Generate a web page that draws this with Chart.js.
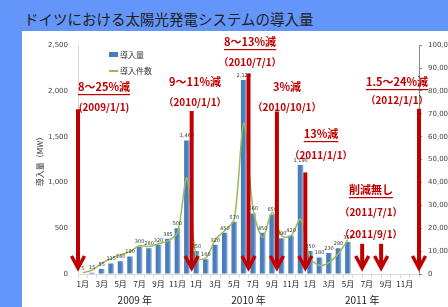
<!DOCTYPE html>
<html>
<head>
<meta charset="utf-8">
<script src="https://cdn.jsdelivr.net/npm/chart.js@4"></script>
<style>
html, body { margin: 0; padding: 0; width: 448px; height: 307px; overflow: hidden; background: #6495f8; }
#title { position: absolute; left: 24px; top: 12px; margin: 0; font: normal 14.5px/1 "Noto Sans CJK JP", sans-serif; color: #1e1e1e; white-space: nowrap; }
#panel { position: absolute; left: 22px; top: 31px; width: 426px; height: 276px; background: #fff; }
canvas { display: block; }
</style>
</head>
<body>
<h1 id="title">ドイツにおける太陽光発電システムの導入量</h1>
<div id="panel"><canvas id="pvChart" width="426" height="276"></canvas></div>
<script>
// data
const years = ['2009', '2010', '2011'];
const months = ['1月', '2月', '3月', '4月', '5月', '6月', '7月', '8月', '9月', '10月', '11月', '12月'];
const categories = years.flatMap(yr => months.map((m, i) => yr + '/' + (i + 1)));

// 導入量 (MW), left axis
const capacityMW = [
    5, 15, 55, 115, 140, 190, 300, 280, 320, 385, 500, 1460,
    250, 160, 320, 450, 570, 2120, 660, 450, 650, 390, 420, 1190,
    250, 180, 230, 280, 350, null, null, null, null, null, null, null
];
// 導入件数, right axis
const installCount = [
    600, 1700, 4700, 6800, 8500, 9800, 12400, 12000, 13200, 14500, 18000, 42000,
    7000, 7000, 15000, 19000, 24000, 66000, 28000, 16000, 27000, 16700, 16700, 24000,
    7000, 3800, 5000, 9000, 15000, null, null, null, null, null, null, null
];

const yTicksLeft = [0, 500, 1000, 1500, 2000, 2500];
const yTicksRight = [0, 10000, 20000, 30000, 40000, 50000, 60000, 70000, 80000, 90000, 100000];

// feed-in tariff cuts
const cutRates = ['8～25%減', '9～11%減', '8～13%減', '3%減', '13%減', '削減無し', '1.5～24%減'];
const cutDates = [['(2009/1/1)'], ['（2010/1/1）'], ['（2010/7/1）'], ['（2010/10/1）'], ['（2011/1/1）'], ['（2011/7/1）', '（2011/9/1）'], ['（2012/1/1）']];

const RED = '#c00000';
const BLUE = '#4a7ebb';
const BLUE_LIGHT = '#a9c4e8';
const GREEN = '#9bbb59';

// arrows: month index where the cut starts, top (MW)
const arrows = [
    { idx: 0, top: 1800 }, { idx: 12, top: 1780 }, { idx: 18, top: 2190 }, { idx: 21, top: 1775 },
    { idx: 24, top: 1110 }, { idx: 30, top: 330 }, { idx: 32, top: 330 }, { idx: 36, top: 1805 }
];
const arrowTip = 55;
// text blocks (canvas px)
const notes = [
    { cx: 82, y: 56, ul: true }, { cx: 173, y: 51, ul: false }, { cx: 228, y: 11, ul: true },
    { cx: 265, y: 56, ul: false }, { cx: 299, y: 103, ul: true }, { cx: 349, y: 159, ul: true },
    { cx: 375, y: 51, ul: true }
];
const dateGaps = [20, 20, 20, 20, 21, 22, 18];

const fmt = v => v.toLocaleString('en-US');

// excel-like shading on each bar
const barShade = {
    id: 'barShade',
    beforeDatasetsDraw(chart) {
        const { ctx } = chart;
        chart.getDatasetMeta(0).data.forEach(bar => {
            const l = bar.x - bar.width / 2, r = bar.x + bar.width / 2;
            const g = ctx.createLinearGradient(l, 0, r, 0);
            g.addColorStop(0, BLUE);
            g.addColorStop(0.6, BLUE);
            g.addColorStop(1, BLUE_LIGHT);
            bar.options.backgroundColor = g;
        });
    }
};

const decorations = {
    id: 'decorations',
    afterDatasetsDraw(chart) {
        const { ctx, scales: { x, y } } = chart;
        const half = (x.getPixelForValue(1) - x.getPixelForValue(0)) / 2;
        ctx.save();

        // bar value labels
        ctx.font = '5px "DejaVu Sans", sans-serif';
        ctx.fillStyle = '#333';
        ctx.textAlign = 'center';
        ctx.textBaseline = 'bottom';
        capacityMW.forEach((v, i) => {
            if (v == null) return;
            ctx.fillText(fmt(v), x.getPixelForValue(i), y.getPixelForValue(v) - 2);
        });

        // arrows
        ctx.strokeStyle = RED;
        ctx.lineJoin = 'miter';
        arrows.forEach(a => {
            const px = x.getPixelForValue(a.idx) - half;
            const top = y.getPixelForValue(a.top);
            const tip = y.getPixelForValue(arrowTip);
            ctx.lineWidth = 4;
            ctx.beginPath(); ctx.moveTo(px, top); ctx.lineTo(px, tip - 3); ctx.stroke();
            ctx.lineWidth = 3.5;
            ctx.beginPath(); ctx.moveTo(px - 6.5, tip - 13); ctx.lineTo(px, tip - 1); ctx.lineTo(px + 6.5, tip - 13); ctx.stroke();
        });

        // texts
        ctx.fillStyle = RED;
        ctx.textBaseline = 'middle';
        notes.forEach((n, i) => {
            ctx.font = 'bold 11px "Noto Sans CJK JP", sans-serif';
            ctx.fillText(cutRates[i], n.cx, n.y);
            if (n.ul) {
                const w = ctx.measureText(cutRates[i]).width;
                ctx.fillRect(n.cx - w / 2, n.y + 7, w, 1.2);
            }
            ctx.font = 'bold 10px "Noto Sans CJK JP", sans-serif';
            cutDates[i].forEach((d, j) => {
                ctx.fillText(d, n.cx, n.y + dateGaps[i] * (j + 1));
            });
        });

        // year labels
        ctx.fillStyle = '#222';
        ctx.font = '10px "Noto Sans CJK JP", sans-serif';
        years.forEach((yr, k) => {
            const cx = (x.getPixelForValue(k * 12) + x.getPixelForValue(k * 12 + 11)) / 2;
            ctx.fillText(yr + ' 年', cx, 269);
        });

        // legend
        ctx.textAlign = 'left';
        ctx.font = '8px "Noto Sans CJK JP", sans-serif';
        ctx.fillStyle = BLUE;
        ctx.fillRect(87, 21, 9, 5);
        ctx.strokeStyle = GREEN;
        ctx.lineWidth = 2;
        ctx.beginPath(); ctx.moveTo(87, 40); ctx.lineTo(96, 40); ctx.stroke();
        ctx.fillStyle = '#333';
        ctx.fillText(chart.data.datasets[0].label, 98, 23.5);
        ctx.fillText(chart.data.datasets[1].label, 98, 40);
        ctx.restore();
    }
};

const ctx = document.getElementById('pvChart').getContext('2d');
new Chart(ctx, {
    type: 'bar',
    data: {
        labels: categories,
        datasets: [
            { type: 'bar', label: '導入量', data: capacityMW, yAxisID: 'y', backgroundColor: () => BLUE,
              barPercentage: 0.6, categoryPercentage: 1, order: 2 },
            { type: 'line', label: '導入件数', data: installCount, yAxisID: 'y1', borderColor: GREEN,
              borderWidth: 1.5, pointRadius: 0, tension: 0.3, fill: false, spanGaps: false, order: 1 }
        ]
    },
    options: {
        responsive: false,
        animation: false,
        devicePixelRatio: 1,
        layout: { padding: { top: 9, left: 0, right: 0, bottom: 0 } },
        plugins: { legend: { display: false }, tooltip: { enabled: false } },
        scales: {
            x: {
                grid: { drawOnChartArea: false, tickLength: 4, color: '#d9d9d9', offset: true },
                border: { color: '#d9d9d9' },
                ticks: {
                    autoSkip: false, maxRotation: 0, padding: 1, color: '#222',
                    font: { size: 8, family: '"Noto Sans CJK JP", sans-serif' },
                    callback: (v, i) => i % 2 === 0 ? months[i % 12] : ''
                },
                afterFit: s => { s.height = 33; }
            },
            y: {
                position: 'left', min: 0, max: 2500,
                afterBuildTicks: s => { s.ticks = yTicksLeft.map(v => ({ value: v })); },
                grid: { drawOnChartArea: false, drawTicks: false },
                border: { color: '#d9d9d9' },
                ticks: { padding: 10, color: '#444', font: { size: 7, family: '"DejaVu Sans", sans-serif' }, callback: v => fmt(v) },
                title: { display: true, text: '導入量（MW）', color: '#333', padding: { top: 13, bottom: 0 },
                         font: { size: 8, family: '"Noto Sans CJK JP", sans-serif' } },
                afterFit: s => { s.width = 56; }
            },
            y1: {
                position: 'right', min: 0, max: 100000,
                afterBuildTicks: s => { s.ticks = yTicksRight.map(v => ({ value: v })); },
                grid: { drawOnChartArea: false, tickLength: 3, color: '#888' },
                border: { color: '#888' },
                ticks: { padding: 6, color: '#444', font: { size: 7, family: '"DejaVu Sans", sans-serif' }, callback: v => fmt(v) },
                afterFit: s => { s.width = 29; }
            }
        }
    },
    plugins: [barShade, decorations]
});
</script>
</body>
</html>
